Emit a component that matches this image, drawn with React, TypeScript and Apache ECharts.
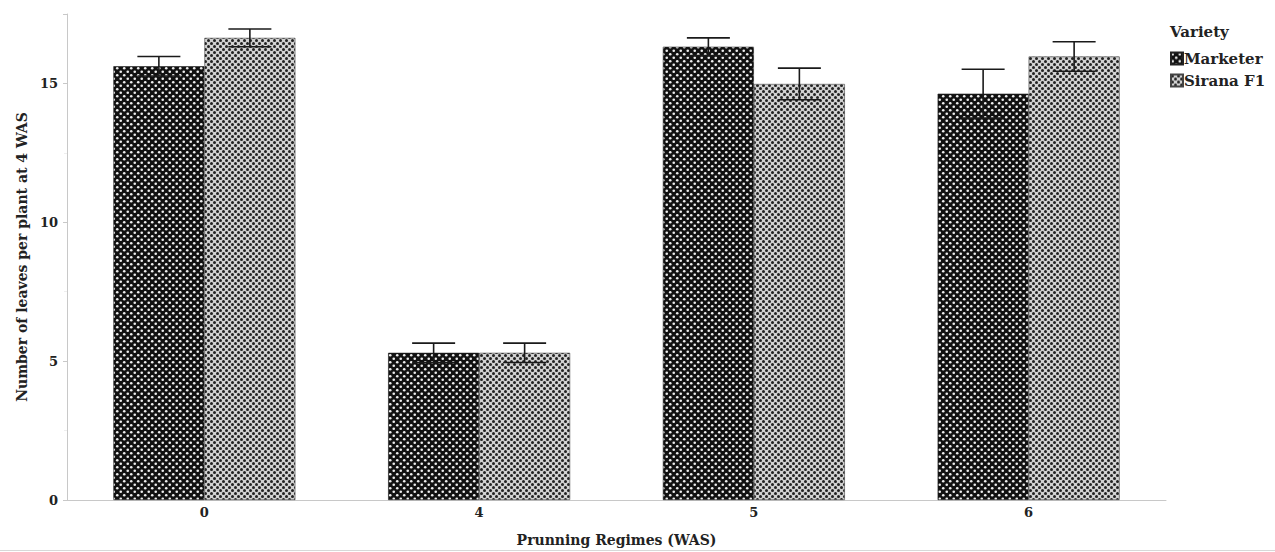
import React, { useEffect, useRef } from "react";
import * as echarts from "echarts";

const categories = ["0", "4", "5", "6"];
const seriesNames = ["Marketer", "Sirana F1"];
const marketer = [15.62, 5.3, 16.32, 14.63];
const marketerSE = [0.35, 0.35, 0.32, 0.88];
const sirana = [16.64, 5.3, 14.98, 15.97];
const siranaSE = [0.32, 0.35, 0.57, 0.53];
const yTicks = [0, 5, 10, 15];

const FONT = "'DejaVu Serif', 'Liberation Serif', serif";

function makePattern(bg: string, dot: string, size: number, r: number) {
  const c = document.createElement("canvas");
  c.width = size;
  c.height = size;
  const ctx = c.getContext("2d")!;
  ctx.fillStyle = bg;
  ctx.fillRect(0, 0, size, size);
  ctx.fillStyle = dot;
  const pts = [
    [size / 4, size / 4],
    [(3 * size) / 4, (3 * size) / 4],
  ];
  for (const [x, y] of pts) {
    ctx.beginPath();
    ctx.arc(x, y, r, 0, Math.PI * 2);
    ctx.fill();
  }
  return c;
}

export default function App() {
  const ref = useRef<HTMLDivElement>(null);
  useEffect(() => {
    if (!ref.current) return;
    const chart = echarts.init(ref.current, null, { renderer: "svg" });
    const patA = makePattern("#111111", "#eeeeee", 7, 1.3);
    const patB = makePattern("#d2d2d2", "#222222", 6, 1.5);
    const BAR_W = 91;
    const errData: number[][] = [];
    marketer.forEach((v, i) => errData.push([i, v - marketerSE[i], v + marketerSE[i], 0]));
    sirana.forEach((v, i) => errData.push([i, v - siranaSE[i], v + siranaSE[i], 1]));

    chart.setOption({
      animation: false,
      backgroundColor: "#ffffff",
      grid: { left: 67, right: 109, top: 14, bottom: 42, containLabel: false },
      legend: {
        orient: "vertical",
        left: 1170,
        top: 51,
        padding: 0,
        itemWidth: 12,
        itemHeight: 12,
        itemGap: 7,
        icon: "rect",
        textStyle: { fontFamily: FONT, fontWeight: "bold", fontSize: 15, color: "#222", padding: [0, 0, 0, -4] },
        data: seriesNames,
      },
      graphic: [
        {
          type: "text",
          left: 1170,
          top: 24,
          style: { text: "Variety", font: `bold 15px ${FONT}`, fill: "#222" },
        },
        {
          type: "line",
          shape: { x1: 0, y1: 550.5, x2: 1275, y2: 550.5 },
          style: { stroke: "#d8d8d8", lineWidth: 1 },
        },
      ],
      xAxis: {
        type: "category",
        data: categories,
        name: "Prunning Regimes (WAS)",
        nameLocation: "middle",
        nameGap: 33,
        nameTextStyle: { fontFamily: FONT, fontWeight: "bold", fontSize: 14, color: "#222" },
        axisLine: { lineStyle: { color: "#c8c8c8", width: 1 } },
        axisTick: { show: false },
        axisLabel: { fontFamily: FONT, fontWeight: "bold", fontSize: 13, color: "#222", margin: 6 },
      },
      yAxis: {
        type: "value",
        min: 0,
        max: 17.5,
        interval: 5,
        name: "Number of leaves per plant at 4 WAS",
        nameLocation: "middle",
        nameGap: 37,
        nameTextStyle: { fontFamily: FONT, fontWeight: "bold", fontSize: 14, color: "#222" },
        axisLine: { show: true, lineStyle: { color: "#c8c8c8", width: 1 } },
        axisTick: { show: true, length: 4, lineStyle: { color: "#c8c8c8" } },
        minorTick: { show: true, splitNumber: 2, length: 3, lineStyle: { color: "#eeeeee" } },
        splitLine: { show: false },
        axisLabel: {
          fontFamily: FONT,
          fontWeight: "bold",
          fontSize: 13,
          color: "#222",
          margin: 9,
          formatter: (v: number) => (yTicks.includes(v) ? String(v) : ""),
        },
      },
      series: [
        {
          name: seriesNames[0],
          type: "bar",
          data: marketer,
          barWidth: BAR_W,
          barGap: "0%",
          itemStyle: { color: { image: patA, repeat: "repeat" }, borderColor: "#222", borderWidth: 0.6 },
        },
        {
          name: seriesNames[1],
          type: "bar",
          data: sirana,
          barWidth: BAR_W,
          barGap: "0%",
          itemStyle: { color: { image: patB, repeat: "repeat" }, borderColor: "#444", borderWidth: 0.6 },
        },
        {
          type: "custom",
          name: "err",
          data: errData,
          z: 10,
          renderItem: (params: any, api: any) => {
            const cat = api.value(0);
            const lo = api.coord([cat, api.value(1)]);
            const hi = api.coord([cat, api.value(2)]);
            const s = api.value(3);
            const x = lo[0] + (s === 0 ? -BAR_W / 2 : BAR_W / 2);
            const cap = 21.5;
            const style = { stroke: "#1a1a1a", lineWidth: 1.6 };
            return {
              type: "group",
              children: [
                { type: "line", shape: { x1: x, y1: hi[1], x2: x, y2: lo[1] }, style },
                { type: "line", shape: { x1: x - cap, y1: hi[1], x2: x + cap, y2: hi[1] }, style },
                { type: "line", shape: { x1: x - cap, y1: lo[1], x2: x + cap, y2: lo[1] }, style },
              ],
            };
          },
          encode: { x: 0, y: [1, 2] },
        },
      ],
    });
    return () => chart.dispose();
  }, []);
  return (
    <div
      ref={ref}
      style={{ position: "fixed", left: 0, top: 0, width: 1275, height: 552, background: "#fff" }}
    />
  );
}
